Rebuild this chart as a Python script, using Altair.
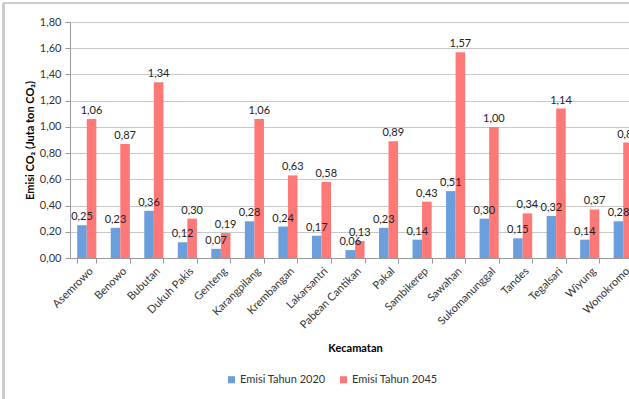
import altair as alt
import pandas as pd

kecamatan = ["Asemrowo", "Benowo", "Bubutan", "Dukuh Pakis", "Genteng", "Karangpilang",
             "Krembangan", "Lakarsantri", "Pabean Cantikan", "Pakal", "Sambikerep",
             "Sawahan", "Sukomanunggal", "Tandes", "Tegalsari", "Wiyung", "Wonokromo"]
emisi_2020 = [0.25, 0.23, 0.36, 0.12, 0.07, 0.28, 0.24, 0.17, 0.06, 0.23, 0.14,
              0.51, 0.30, 0.15, 0.32, 0.14, 0.28]
emisi_2045 = [1.06, 0.87, 1.34, 0.30, 0.19, 1.06, 0.63, 0.58, 0.13, 0.89, 0.43,
              1.57, 1.00, 0.34, 1.14, 0.37, 0.88]
series = ["Emisi Tahun 2020", "Emisi Tahun 2045"]
y_ticks = [0, 0.2, 0.4, 0.6, 0.8, 1.0, 1.2, 1.4, 1.6, 1.8]

rows = []
for k, a, b in zip(kecamatan, emisi_2020, emisi_2045):
    rows.append({"Kecamatan": k, "Seri": series[0], "Nilai": a})
    rows.append({"Kecamatan": k, "Seri": series[1], "Nilai": b})
df = pd.DataFrame(rows)

FONT = "Lato"

x_enc = alt.X("Kecamatan:N", sort=kecamatan,
              scale=alt.Scale(range=[0, 570], paddingInner=0.43, paddingOuter=0.215),
              axis=alt.Axis(title="Kecamatan", labelAngle=315, labelAlign="right",
                            labelBaseline="top", labelPadding=2, labelFontSize=11,
                            labelColor="#333333", tickBand="extent", tickColor="#999999",
                            tickSize=5, domainColor="#999999", grid=False,
                            labelOverlap=False,
                            titleFontSize=11, titleFontWeight="bold", titleColor="#000000",
                            titleX=285, titleY=90, titleAlign="center",
                            titleBaseline="middle"))
y_enc = alt.Y("Nilai:Q",
              scale=alt.Scale(domain=[0, 1.8], nice=False),
              axis=alt.Axis(title="Emisi CO₂ (Juta ton CO₂)", values=y_ticks,
                            labelExpr="replace(format(datum.value, '.2f'), '.', ',')",
                            labelOverlap=False,
                            labelFontSize=11, labelColor="#333333", labelPadding=4,
                            tickColor="#999999", tickSize=5, domainColor="#999999",
                            gridColor="#c8c8c8", titleFontSize=11, titleFontWeight="bold",
                            titleColor="#000000", titleX=-40, titleY=118,
                            titleAngle=270, titleAlign="center", titleBaseline="middle"))
color_enc = alt.Color("Seri:N", sort=series,
                      scale=alt.Scale(domain=series, range=["#6A9EDC", "#FF7878"]),
                      legend=alt.Legend(title=None, orient="none", direction="horizontal",
                                        legendX=156, legendY=352, symbolType="square",
                                        symbolSize=50, symbolStrokeWidth=0,
                                        labelFontSize=11, labelColor="#333333",
                                        columnPadding=12, labelOffset=3))
xoff = alt.XOffset("Seri:N", sort=series)

bars = alt.Chart(df).mark_bar().encode(x=x_enc, y=y_enc, color=color_enc, xOffset=xoff)

labels = alt.Chart(df).transform_calculate(
    lbl="replace(format(datum.Nilai, '.2f'), '.', ',')"
).mark_text(dy=-8, fontSize=11, color="#222222", font=FONT).encode(
    x=x_enc, y=y_enc, xOffset=xoff, text="lbl:N")

frame_left = alt.Chart(df).mark_rule(color="#cccccc", strokeWidth=1.5).encode(
    x=alt.value(-66.5), y=alt.value(-19), y2=alt.value(377))
frame_top = alt.Chart(df).mark_rule(color="#cccccc", strokeWidth=1.5).encode(
    x=alt.value(-66.5), x2=alt.value(600), y=alt.value(-19))

chart = alt.layer(bars, labels, frame_left, frame_top).properties(
    width=559, height=236,
    autosize=alt.AutoSizeParams(type="none"),
    padding={"left": 70, "top": 22, "right": 0, "bottom": 141},
    background="white",
).configure_view(stroke=None).configure(font=FONT)

chart.save("out.html", embed_options={"renderer": "svg", "actions": False})
